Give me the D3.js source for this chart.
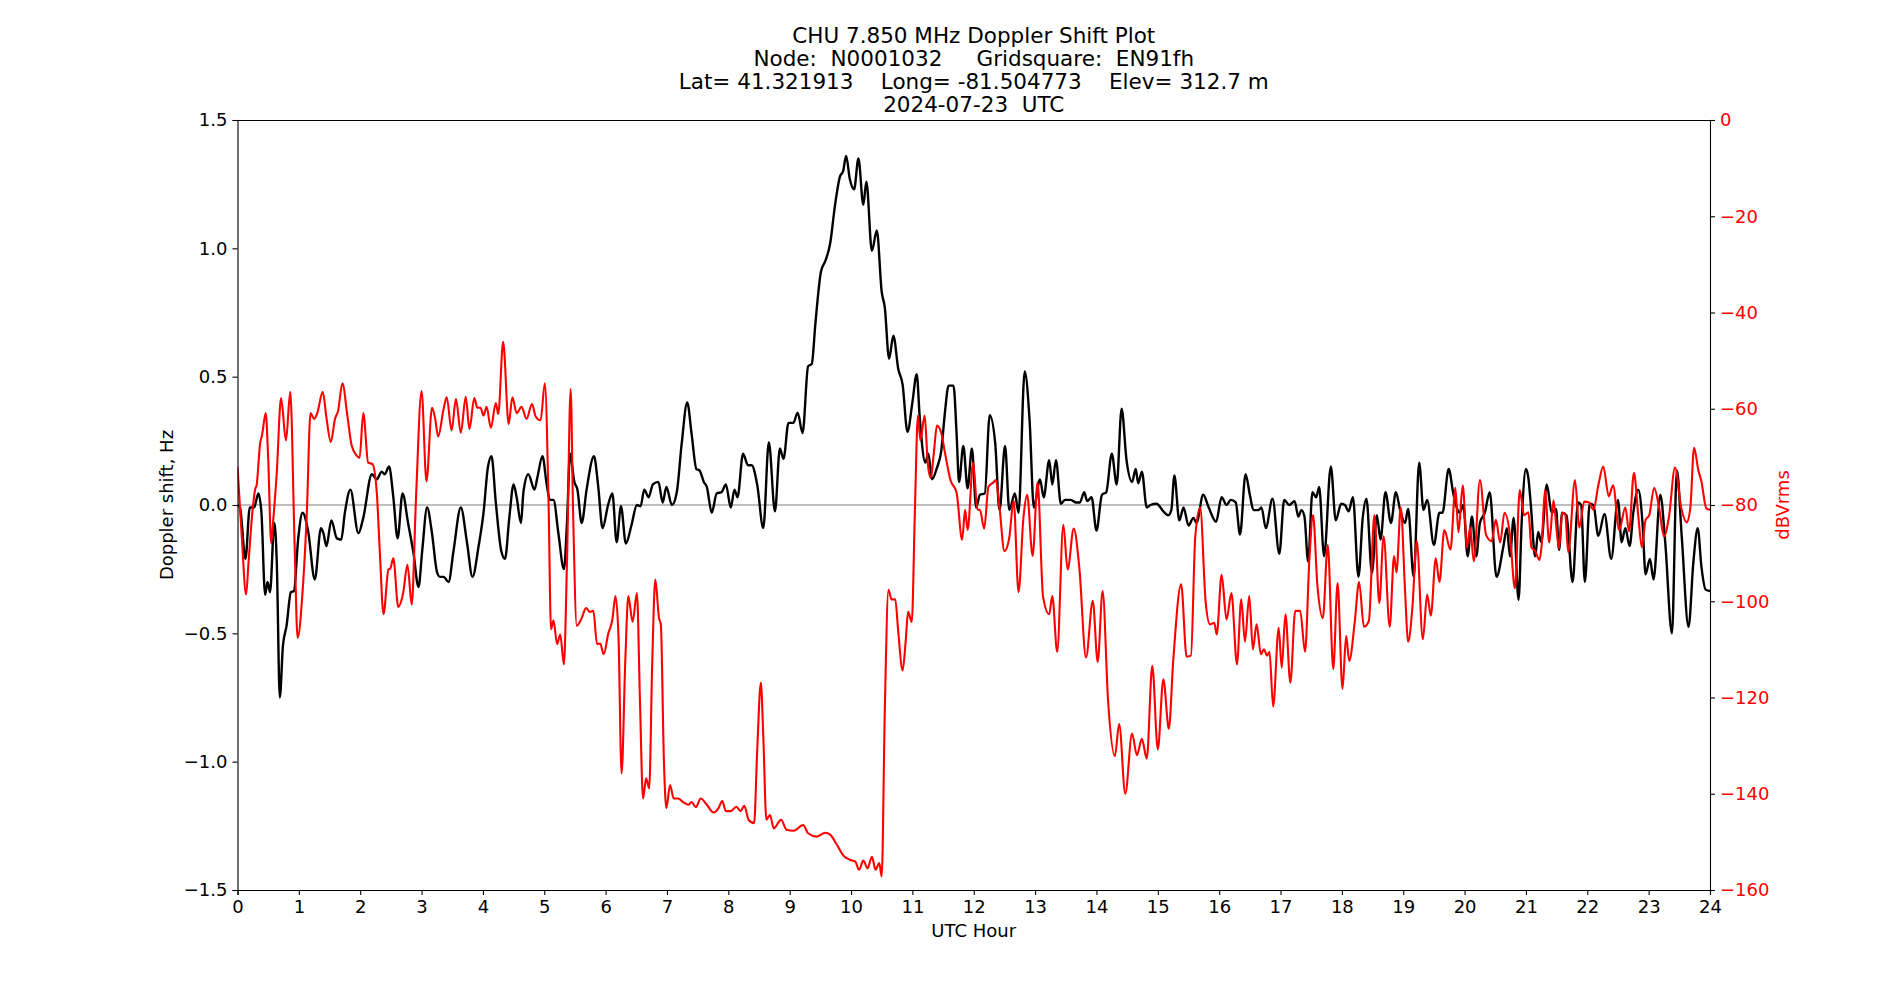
<!DOCTYPE html>
<html>
<head>
    <meta charset="utf-8"/>
    <style>
        body{ margin:0; background:#fff; }
        text{ font-family: "DejaVu Sans", sans-serif; fill: black; }
        .title{ font-size: 21.5px; white-space: pre; }
        .tick text{ font-size: 18px; }
        .axis path, .axis line{ stroke: black; stroke-width: 1.1px; }
        #y2-axis text{ fill: red; }
    </style>
</head>
<body>
<svg id="graph"></svg>
<script src="https://d3js.org/d3.v7.min.js"></script>
<script>
    // title lines
    const TITLE = [
        'CHU 7.850 MHz Doppler Shift Plot',
        'Node:  N0001032     Gridsquare:  EN91fh',
        'Lat= 41.321913    Long= -81.504773    Elev= 312.7 m',
        '2024-07-23  UTC'
    ];
    const X_TICKS = d3.range(0, 25, 1);
    const Y_TICKS = [-1.5, -1.0, -0.5, 0.0, 0.5, 1.0, 1.5];
    const DB_TICKS = [0, -20, -40, -60, -80, -100, -120, -140, -160];

    // Doppler shift (Hz), black line
    const dopHour = [0.00,0.04,0.13,0.20,0.27,0.34,0.39,0.45,0.49,0.53,0.60,0.64,0.69,0.74,0.80,0.87,0.92,0.99,1.06,1.15,1.26,1.36,1.40,1.45,1.53,1.62,1.69,1.75,1.84,1.97,
        2.05,2.19,2.27,2.35,2.40,2.47,2.54,2.61,2.69,2.78,2.87,2.95,3.01,3.09,3.17,3.25,3.30,3.36,3.44,3.52,3.64,3.74,3.83,3.93,4.01,4.08,4.14,4.21,4.30,4.36,
        4.43,4.50,4.55,4.62,4.66,4.74,4.84,4.89,4.97,5.04,5.09,5.15,5.23,5.32,5.37,5.42,5.49,5.54,5.61,5.69,5.81,5.88,5.95,6.04,6.11,6.18,6.25,6.33,6.42,6.51,
        6.57,6.63,6.70,6.77,6.86,6.93,6.99,7.08,7.16,7.24,7.33,7.40,7.48,7.53,7.60,7.65,7.73,7.81,7.89,7.96,8.04,8.10,8.15,8.24,8.32,8.38,8.47,8.57,8.66,8.76,
        8.84,8.90,8.98,9.06,9.13,9.21,9.30,9.36,9.42,9.51,9.58,9.66,9.74,9.82,9.87,9.92,9.98,10.05,10.12,10.20,10.25,10.34,10.42,10.50,10.55,10.62,10.69,10.77,10.84,10.92,
        11.00,11.07,11.12,11.21,11.26,11.32,11.40,11.47,11.53,11.59,11.67,11.72,11.76,11.83,11.90,11.97,12.04,12.10,12.18,12.26,12.35,12.42,12.51,12.58,12.67,12.73,12.83,12.91,12.98,13.08,
        13.14,13.23,13.28,13.34,13.42,13.49,13.58,13.67,13.73,13.80,13.85,13.92,14.00,14.09,14.16,14.25,14.33,14.41,14.49,14.58,14.64,14.68,14.74,14.82,14.88,14.98,15.09,15.17,15.22,15.27,
        15.35,15.42,15.50,15.58,15.63,15.74,15.83,15.95,16.04,16.12,16.19,16.27,16.34,16.43,16.50,16.56,16.64,16.69,16.76,16.87,16.98,17.06,17.14,17.23,17.29,17.34,17.39,17.45,17.52,17.58,
        17.63,17.71,17.82,17.90,17.99,18.05,18.11,18.18,18.27,18.34,18.40,18.49,18.57,18.63,18.71,18.80,18.88,18.95,19.03,19.08,19.17,19.26,19.33,19.39,19.50,19.59,19.64,19.74,19.82,19.92,
        19.98,20.05,20.12,20.19,20.25,20.33,20.41,20.52,20.63,20.69,20.74,20.80,20.88,20.93,21.00,21.04,21.08,21.15,21.20,21.25,21.34,21.42,21.49,21.54,21.59,21.66,21.76,21.85,21.90,21.96,
        22.04,22.10,22.18,22.28,22.39,22.50,22.56,22.62,22.69,22.75,22.83,22.90,22.95,23.02,23.08,23.19,23.27,23.38,23.46,23.54,23.65,23.73,23.80,23.86,23.93,24.00];
    const dopShift = [0.0,-0.01,-0.21,-0.01,-0.01,0.045,-0.03,-0.35,-0.30,-0.34,-0.07,-0.22,-0.75,-0.55,-0.47,-0.34,-0.335,-0.13,-0.03,-0.10,-0.29,-0.09,-0.11,-0.16,-0.06,-0.13,-0.135,-0.03,0.06,-0.11,
        -0.05,0.12,0.10,0.13,0.12,0.15,0.03,-0.13,0.045,-0.07,-0.19,-0.32,-0.18,-0.01,-0.11,-0.26,-0.28,-0.28,-0.30,-0.18,-0.01,-0.145,-0.28,-0.16,-0.03,0.145,0.19,0.01,-0.18,-0.21,
        -0.05,0.08,0.03,-0.07,0.05,0.12,0.06,0.11,0.19,0.08,0.02,0.02,-0.11,-0.25,-0.07,0.20,0.09,0.06,-0.07,0.06,0.19,0.07,-0.09,0.0,0.045,-0.145,-0.005,-0.15,-0.08,0.0,
        -0.005,0.06,0.03,0.08,0.09,0.01,0.07,0.0,0.05,0.24,0.40,0.28,0.14,0.135,0.09,0.07,-0.03,0.045,0.05,0.08,-0.01,0.06,0.03,0.20,0.155,0.155,0.08,-0.09,0.245,-0.025,
        0.22,0.18,0.32,0.32,0.36,0.28,0.54,0.55,0.71,0.91,0.95,1.02,1.17,1.28,1.30,1.36,1.27,1.23,1.35,1.17,1.26,0.99,1.07,0.83,0.77,0.57,0.66,0.53,0.47,0.285,
        0.40,0.51,0.34,0.165,0.20,0.10,0.145,0.21,0.36,0.465,0.465,0.28,0.09,0.23,0.065,0.22,-0.01,0.04,0.045,0.35,0.24,-0.02,0.23,-0.02,0.045,-0.03,0.52,0.33,-0.01,0.10,
        0.03,0.175,0.08,0.175,0.005,0.02,0.02,0.01,0.01,0.05,0.015,0.03,-0.10,0.04,0.05,0.20,0.08,0.375,0.175,0.09,0.14,0.085,0.13,-0.01,0.0,0.005,-0.025,-0.04,-0.02,0.115,
        -0.06,-0.01,-0.08,-0.05,-0.07,0.04,-0.01,-0.065,0.03,0.0,0.02,0.01,-0.115,0.12,0.04,-0.02,-0.02,-0.01,-0.09,0.025,-0.19,0.02,0.0,0.015,-0.045,-0.02,-0.045,-0.22,0.05,0.03,
        0.07,-0.20,0.15,-0.06,0.005,0.0,-0.025,0.03,-0.28,-0.05,0.025,-0.265,-0.04,-0.135,0.05,-0.07,0.05,-0.02,-0.07,-0.015,-0.28,0.165,-0.02,0.02,-0.155,-0.03,-0.03,0.14,0.04,-0.03,
        0.0,-0.20,-0.045,-0.20,-0.07,-0.03,0.05,-0.28,-0.165,-0.09,-0.20,-0.05,-0.37,-0.07,0.14,0.105,0.0,-0.20,-0.105,-0.145,0.08,-0.03,-0.015,-0.175,-0.03,-0.04,-0.30,0.01,0.0,-0.30,
        0.005,0.0,-0.12,-0.035,-0.21,0.02,-0.145,-0.09,-0.16,-0.03,0.06,-0.07,-0.27,-0.21,-0.29,0.04,-0.145,-0.50,0.135,-0.125,-0.475,-0.22,-0.09,-0.24,-0.33,-0.335];

    // signal level (dBVrms), red line
    const dbHour = [0.00,0.07,0.14,0.18,0.25,0.29,0.31,0.37,0.40,0.46,0.50,0.55,0.58,0.64,0.71,0.79,0.86,0.93,0.98,1.06,1.13,1.19,1.25,1.30,1.39,1.45,1.52,1.59,1.64,1.71,
        1.79,1.86,1.94,1.99,2.05,2.13,2.20,2.27,2.32,2.38,2.46,2.49,2.54,2.62,2.70,2.77,2.84,2.91,3.00,3.08,3.17,3.22,3.27,3.36,3.41,3.49,3.56,3.64,3.72,3.78,
        3.86,3.91,3.96,4.01,4.06,4.13,4.21,4.25,4.33,4.42,4.48,4.55,4.63,4.71,4.80,4.86,4.94,5.01,5.07,5.11,5.15,5.21,5.26,5.32,5.37,5.43,5.47,5.53,5.61,5.68,
        5.74,5.80,5.86,5.91,5.97,6.04,6.11,6.16,6.21,6.26,6.32,6.37,6.44,6.51,6.56,6.61,6.66,6.71,6.76,6.81,6.87,6.90,6.95,6.99,7.05,7.11,7.18,7.27,7.35,7.40,
        7.47,7.55,7.65,7.76,7.84,7.90,7.96,8.04,8.13,8.20,8.26,8.33,8.42,8.47,8.53,8.57,8.62,8.68,8.74,8.86,8.95,9.06,9.22,9.30,9.44,9.58,9.66,9.77,9.88,9.98,
        10.07,10.13,10.20,10.27,10.34,10.40,10.46,10.50,10.55,10.61,10.66,10.72,10.77,10.84,10.89,10.93,10.99,11.04,11.09,11.13,11.20,11.25,11.30,11.35,11.40,11.47,11.53,11.62,11.72,11.81,
        11.86,11.90,11.99,12.06,12.10,12.17,12.24,12.32,12.36,12.42,12.50,12.58,12.65,12.73,12.81,12.87,12.96,13.04,13.13,13.23,13.28,13.36,13.46,13.53,13.63,13.72,13.83,13.94,14.02,14.10,
        14.19,14.30,14.37,14.47,14.58,14.66,14.74,14.82,14.91,15.00,15.09,15.18,15.25,15.38,15.47,15.54,15.61,15.69,15.78,15.85,15.92,15.96,16.04,16.12,16.20,16.29,16.36,16.42,16.49,16.55,
        16.61,16.68,16.73,16.78,16.82,16.88,16.97,17.02,17.08,17.16,17.24,17.32,17.40,17.47,17.53,17.60,17.69,17.77,17.86,17.93,18.01,18.07,18.12,18.21,18.28,18.36,18.44,18.53,18.61,18.68,
        18.78,18.85,18.89,18.96,19.03,19.08,19.15,19.22,19.32,19.39,19.45,19.53,19.59,19.67,19.77,19.85,19.90,19.97,20.04,20.09,20.15,20.25,20.35,20.44,20.51,20.58,20.65,20.74,20.82,20.90,
        20.97,21.04,21.09,21.15,21.22,21.26,21.31,21.38,21.45,21.50,21.54,21.59,21.64,21.69,21.80,21.87,21.95,22.03,22.10,22.18,22.26,22.35,22.42,22.52,22.62,22.68,22.76,22.83,22.89,22.95,
        23.01,23.09,23.17,23.25,23.33,23.43,23.53,23.62,23.68,23.74,23.81,23.86,23.94,24.00];
    const dbLevel = [-72,-86.7,-98.6,-91.9,-80.5,-76.6,-76,-67.1,-65.5,-60.9,-70.2,-88,-83.6,-73.3,-57.8,-66.6,-56.5,-87.8,-107.6,-98.1,-81.6,-60.9,-62.1,-60.9,-56.5,-61.9,-66.9,-62.1,-60.4,-54.7,
        -61.4,-67.6,-69.7,-70.2,-60.9,-71.2,-71.5,-77.4,-89.8,-102.7,-93.4,-93.2,-91.1,-101.2,-98.3,-92.4,-100.7,-78.4,-56.3,-75.1,-59.8,-61.9,-65.8,-60,-57.6,-64.5,-58,-65,-57.5,-64.2,
        -57.8,-59.8,-59.8,-61.4,-59.6,-64,-58.8,-61.1,-46.1,-63.2,-57.6,-60.9,-59.6,-62.1,-59,-61.6,-62.4,-54.7,-79.5,-105.8,-104,-108.9,-106.9,-113.1,-91.9,-55.9,-81.6,-105.1,-103.5,-101.4,
        -102.2,-102,-108.9,-108.8,-111,-106.9,-103.8,-98.9,-107.4,-135.8,-112.6,-98.9,-104.3,-98.3,-120.8,-141,-136.8,-138.9,-112.6,-95.5,-103.5,-104.8,-133.2,-143,-138.2,-141,-141,-141.8,-142.3,-141.7,
        -142.8,-141,-142.3,-143.9,-143,-141.5,-143.6,-143.6,-142.7,-143.6,-142.5,-145.4,-146.1,-131.2,-116.9,-128.1,-145.4,-144.4,-147.2,-145.4,-147.5,-147.7,-146.5,-148.2,-148.9,-148.1,-148.5,-150.6,-152.9,-153.7,
        -154.1,-155.8,-153.9,-155.5,-153.1,-155.8,-154.4,-157.2,-122.9,-97.6,-99.6,-99.6,-106.4,-114.4,-108.4,-102.2,-104.3,-81.6,-61.4,-66.6,-61.4,-71.2,-74.4,-69.1,-63.5,-65,-69.1,-74.8,-77.4,-87.2,
        -81,-85.2,-71.2,-81,-81,-84.9,-76.2,-75.3,-74.8,-80.5,-89.6,-86.7,-79,-98.1,-82.6,-77.9,-90.6,-75.3,-99.1,-102.7,-98.9,-110.5,-84.1,-93.4,-84.9,-92.9,-111.7,-99.9,-112.6,-97.9,
        -120.8,-132.2,-125.5,-140,-127.5,-132,-128.6,-132.7,-113.4,-130.8,-116.2,-126.5,-112.6,-96.5,-111.5,-111.3,-86.7,-80.5,-100.2,-104.8,-104.5,-106.9,-94.5,-103.8,-98.3,-113.1,-99.6,-108.4,-98.9,-110,
        -104.8,-111,-110,-111.3,-110.5,-121.9,-105.5,-113.8,-102.7,-116.9,-102,-102,-110.5,-91.4,-82.1,-96.5,-103.5,-88.3,-114.1,-96.2,-118.2,-107.2,-112.4,-104.3,-96,-105.3,-104.1,-82.1,-100.4,-86.5,
        -105.3,-90.6,-94,-80.5,-97.9,-108.4,-101.2,-87.5,-107.9,-98.6,-103,-91.1,-96,-85.2,-89.3,-76.4,-85.7,-75.9,-88.8,-84.7,-91.7,-74.8,-86.2,-87.5,-83.1,-87.8,-81.6,-86.2,-97.3,-76.9,
        -82.1,-81.5,-88.8,-89.6,-91.4,-87.8,-76.9,-87.8,-79,-85.2,-89,-81.6,-82,-89.8,-74.8,-84.7,-79.3,-79.5,-81,-75.9,-72,-78.2,-75.9,-85.2,-80.5,-85.5,-73.3,-82.1,-88.8,-83.1,
        -82.1,-76.4,-80.5,-86.5,-82.6,-72.2,-80.5,-83.6,-80.5,-68.1,-72.8,-75.1,-80.7,-81];

    // figure layout (matplotlib-like 19x10 figure)
    var figW = 1900, figH = 1000;
    var plotLeft = 237.5, plotRight = 1710, plotTop = 120, plotBottom = 890;

    var svg = d3.select('#graph')
        .attr('width', figW)
        .attr('height', figH);

    var x = d3.scaleLinear().domain([0, 24]).range([plotLeft, plotRight]);
    var y = d3.scaleLinear().domain([-1.5, 1.5]).range([plotBottom, plotTop]);
    var y2 = d3.scaleLinear().domain([-160, 0]).range([plotBottom, plotTop]);

    svg.append('clipPath').attr('id', 'plot-clip')
        .append('rect')
        .attr('x', plotLeft).attr('y', plotTop)
        .attr('width', plotRight - plotLeft).attr('height', plotBottom - plotTop);

    // zero reference line
    svg.append('line')
        .attr('x1', plotLeft).attr('x2', plotRight)
        .attr('y1', y(0)).attr('y2', y(0))
        .attr('stroke', 'gray')
        .attr('stroke-width', 1.1);

    var dopData = dopHour.map(function(h, i){ return [h, dopShift[i]]; });
    var dbData = dbHour.map(function(h, i){ return [h, dbLevel[i]]; });

    svg.append('path')
        .datum(dopData)
        .attr('clip-path', 'url(#plot-clip)')
        .attr('fill', 'none')
        .attr('stroke', 'black')
        .attr('stroke-width', 2.4)
        .attr('stroke-linejoin', 'round')
        .attr('d', d3.line()
            .x(function(d){ return x(d[0]); })
            .y(function(d){ return y(d[1]); })
            .curve(d3.curveMonotoneX));

    svg.append('path')
        .datum(dbData)
        .attr('clip-path', 'url(#plot-clip)')
        .attr('fill', 'none')
        .attr('stroke', 'red')
        .attr('stroke-width', 2.1)
        .attr('stroke-linejoin', 'round')
        .attr('d', d3.line()
            .x(function(d){ return x(d[0]); })
            .y(function(d){ return y2(d[1]); })
            .curve(d3.curveMonotoneX));

    // axes
    var fmt1 = d3.format('.1f');
    svg.append('g')
        .attr('class', 'axis')
        .attr('id', 'x-axis')
        .attr('transform', 'translate(0,' + plotBottom + ')')
        .call(d3.axisBottom(x).tickValues(X_TICKS).tickFormat(d3.format('d')).tickSizeOuter(0).tickSize(5).tickPadding(5));
    svg.append('g')
        .attr('class', 'axis')
        .attr('id', 'x-axis-top')
        .attr('transform', 'translate(0,' + plotTop + ')')
        .call(d3.axisTop(x).tickValues([]).tickSizeOuter(0));
    svg.append('g')
        .attr('class', 'axis')
        .attr('id', 'y-axis')
        .attr('transform', 'translate(' + plotLeft + ',0)')
        .call(d3.axisLeft(y).tickValues(Y_TICKS).tickFormat(fmt1).tickSizeOuter(0).tickSize(5).tickPadding(5));
    svg.append('g')
        .attr('class', 'axis')
        .attr('id', 'y2-axis')
        .attr('transform', 'translate(' + plotRight + ',0)')
        .call(d3.axisRight(y2).tickValues(DB_TICKS).tickFormat(d3.format('d')).tickSizeOuter(0).tickSize(5).tickPadding(5));
    svg.selectAll('.axis').attr('font-family', null).attr('font-size', null);

    // axis labels
    svg.append('text')
        .attr('x', (plotLeft + plotRight) / 2)
        .attr('y', 937)
        .attr('text-anchor', 'middle')
        .style('font-size', '18px')
        .text('UTC Hour');
    svg.append('text')
        .attr('transform', 'translate(173,' + (plotTop + plotBottom) / 2 + ') rotate(-90)')
        .attr('text-anchor', 'middle')
        .style('font-size', '18px')
        .text('Doppler shift, Hz');
    svg.append('text')
        .attr('transform', 'translate(1789,' + (plotTop + plotBottom) / 2 + ') rotate(-90)')
        .attr('text-anchor', 'middle')
        .style('font-size', '18px')
        .style('fill', 'red')
        .text('dBVrms');

    // title, centred over the axes like matplotlib
    var titleY = [42.5, 65.5, 88.5, 111.5];
    svg.selectAll('.title')
        .data(TITLE)
        .enter().append('text')
        .attr('class', 'title')
        .attr('x', (plotLeft + plotRight) / 2)
        .attr('y', function(d, i){ return titleY[i]; })
        .attr('text-anchor', 'middle')
        .text(function(d){ return d; });
</script>
</body>
</html>
